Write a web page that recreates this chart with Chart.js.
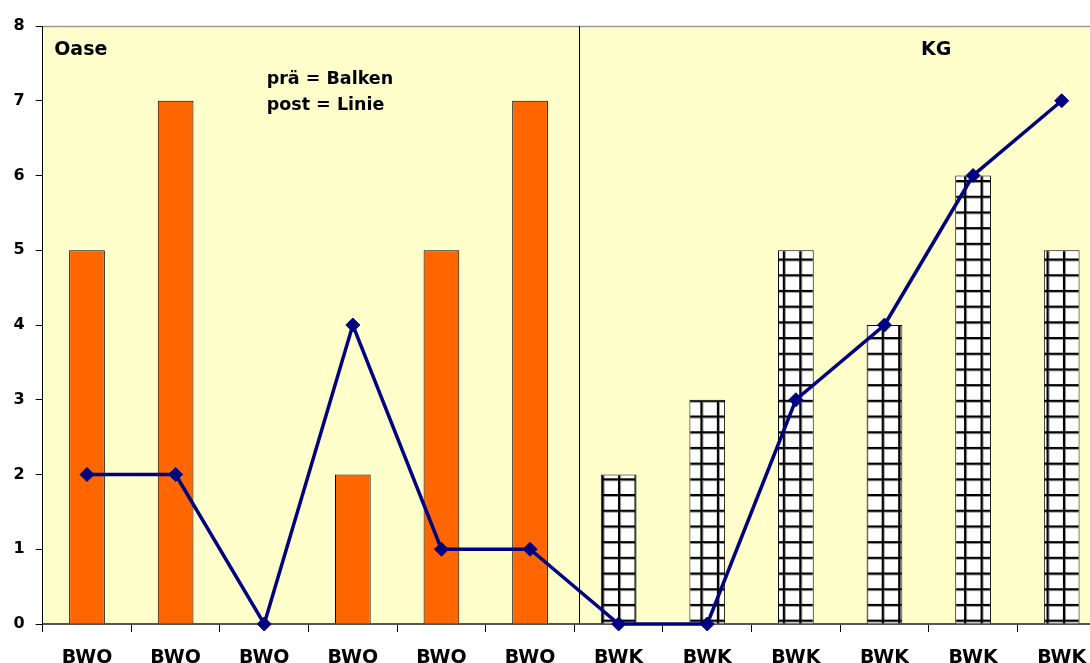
<!DOCTYPE html>
<html><head><meta charset="utf-8">
<script src="https://cdn.jsdelivr.net/npm/chart.js@4/dist/chart.umd.min.js"></script>
<style>html,body{margin:0;padding:0;overflow:hidden;background:#fff}canvas{display:block}</style>
</head><body>
<canvas id="c" width="1114" height="690"></canvas>
<script>
const categories = ["BWO","BWO","BWO","BWO","BWO","BWO","BWK","BWK","BWK","BWK","BWK","BWK"];
const preValues = [5,7,0,2,5,7,2,3,5,4,6,5];   // bars (prä)
const postValues = [2,2,0,4,1,1,0,0,3,4,6,7];  // line (post)
const yTicks = [0,1,2,3,4,5,6,7,8];
const groupLabels = ["Oase","KG"];
const noteLines = ["prä = Balken","post = Linie"];

const FONT = '"DejaVu Sans", "Liberation Sans", Arial, sans-serif';

function gridPattern(){
  const s = 16;
  const c = document.createElement('canvas'); c.width = s; c.height = s;
  const g = c.getContext('2d');
  g.fillStyle = '#ffffff'; g.fillRect(0,0,s,s);
  g.fillStyle = '#999999'; g.fillRect(0,0,s,3); g.fillRect(0,0,3,s);
  g.fillStyle = '#000000'; g.fillRect(0,0,s,2); g.fillRect(0,0,2,s);
  const p = document.getElementById('c').getContext('2d').createPattern(c,'repeat');
  if (p.setTransform && window.DOMMatrix) {
    const m = new DOMMatrix();
    m.translateSelf(8.2, 7.3);
    m.scaleSelf(16.48/16, 15.7/16);
    p.setTransform(m);
  }
  return p;
}
const pat = gridPattern();
const barColors = categories.map(c => c === 'BWO' ? '#FF6600' : pat);

const bgPlugin = {
  id:'bg',
  beforeDraw(chart){
    const {ctx, chartArea:a} = chart;
    ctx.save();
    ctx.fillStyle = '#FFFFCC';
    ctx.fillRect(a.left, a.top, a.right-a.left, a.bottom-a.top);
    ctx.strokeStyle = '#999999'; ctx.lineWidth = 1.5;
    ctx.beginPath(); ctx.moveTo(a.left, a.top+0.5); ctx.lineTo(a.right, a.top+0.5); ctx.stroke();
    // divider between groups
    const x = chart.scales.x;
    const w = x.getPixelForValue(1) - x.getPixelForValue(0);
    const dx = Math.round((x.getPixelForValue(5)+x.getPixelForValue(6))/2 + 0.05*w) + 0.5;
    ctx.strokeStyle = '#000'; ctx.lineWidth = 1;
    ctx.beginPath(); ctx.moveTo(dx, a.top); ctx.lineTo(dx, a.bottom); ctx.stroke();
    // texts
    ctx.fillStyle = '#000';
    ctx.textBaseline = 'middle'; ctx.textAlign = 'left';
    ctx.font = 'bold 19px ' + FONT;
    ctx.fillText(groupLabels[0], a.left+11.5, a.top+24);
    ctx.fillText(groupLabels[1], x.getPixelForValue(9)+36.5, a.top+24);
    ctx.font = 'bold 17.5px ' + FONT;
    ctx.fillText(noteLines[0], a.left+224, a.top+53);
    ctx.fillText(noteLines[1], a.left+224, a.top+79);
    ctx.restore();
  }
};

new Chart(document.getElementById('c'), {
  type:'bar',
  data:{
    labels: categories,
    datasets:[
      {type:'line', data: postValues, borderColor:'#000080', backgroundColor:'#000080',
       borderWidth:3.5, pointStyle:'rectRot', pointRadius:7, pointHoverRadius:7, pointBorderWidth:1,
       tension:0, order:0, clip:false},
      {type:'bar', data: preValues, backgroundColor: barColors, borderColor:'#000', borderWidth:1,
       borderSkipped:'bottom', barPercentage:0.403, categoryPercentage:1, order:1}
    ]
  },
  options:{
    responsive:false, animation:false,
    layout:{padding:{top:26,left:0,right:0,bottom:0}},
    plugins:{legend:{display:false}, tooltip:{enabled:false}},
    scales:{
      x:{
        offset:true,
        grid:{offset:true, drawOnChartArea:false, tickLength:8, color:'#000', tickWidth:1},
        border:{display:true, color:'#555', width:2},
        ticks:{color:'#000', font:{family:FONT, size:19, weight:'bold'}, padding:15, maxRotation:0, autoSkip:false},
        afterFit(s){ s.height = 690-624; }
      },
      y:{
        min:0, max:8,
        afterBuildTicks(s){ s.ticks = yTicks.map(v=>({value:v})); },
        grid:{drawOnChartArea:false, tickLength:7, color:'#000'},
        border:{display:true, color:'#000', width:1},
        ticks:{color:'#000', font:{family:FONT, size:16, weight:'bold'}, padding:11},
        afterFit(s){ s.width = 42.7; }
      }
    }
  },
  plugins:[bgPlugin]
});
</script>
</body></html>
